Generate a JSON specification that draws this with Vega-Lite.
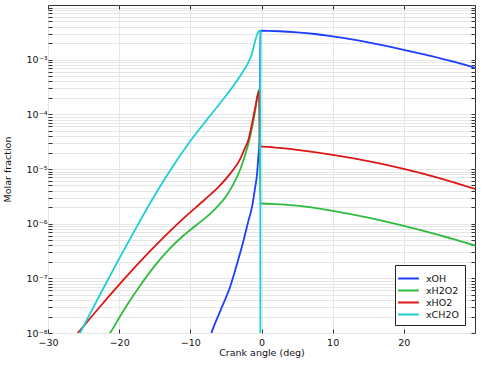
{
  "$schema": "https://vega.github.io/schema/vega-lite/v6.json",
  "width": 427,
  "height": 328,
  "autosize": {"type": "none"},
  "padding": {"left": 48, "top": 5, "right": 23, "bottom": 45},
  "background": "white",
  "config": {
    "font": "DejaVu Sans",
    "view": {"stroke": "#333333", "strokeWidth": 1},
    "axis": {
      "domain": false,
      "grid": true,
      "gridColor": "#e6e6e6",
      "gridWidth": 1,
      "tickColor": "#333333",
      "tickSize": -4,
      "labelFontSize": 9.5,
      "labelColor": "#111111",
      "titleFontSize": 9.5,
      "titleFontWeight": "normal",
      "titleColor": "#111111",
      "labelOverlap": false,
      "labelFlush": false
    }
  },
  "data": {
    "values": [
      {"species": "xOH", "angle": -7.3, "fraction": 7.94e-9},
      {"species": "xOH", "angle": -7.04, "fraction": 1e-8},
      {"species": "xOH", "angle": -5.77, "fraction": 2.57e-8},
      {"species": "xOH", "angle": -4.37, "fraction": 7.24e-8},
      {"species": "xOH", "angle": -3.38, "fraction": 1.95e-7},
      {"species": "xOH", "angle": -2.49, "fraction": 5.13e-7},
      {"species": "xOH", "angle": -1.86, "fraction": 1.10e-6},
      {"species": "xOH", "angle": -1.31, "fraction": 2.09e-6},
      {"species": "xOH", "angle": -0.92, "fraction": 4.37e-6},
      {"species": "xOH", "angle": -0.61, "fraction": 8.51e-6},
      {"species": "xOH", "angle": -0.45, "fraction": 1.62e-5},
      {"species": "xOH", "angle": -0.28, "fraction": 3.47e-5},
      {"species": "xOH", "angle": -0.2, "fraction": 2.51e-4},
      {"species": "xOH", "angle": -0.15, "fraction": 3.39e-3},
      {"species": "xOH", "angle": 2.5, "fraction": 3.31e-3},
      {"species": "xOH", "angle": 5, "fraction": 3.16e-3},
      {"species": "xOH", "angle": 7.5, "fraction": 2.95e-3},
      {"species": "xOH", "angle": 10, "fraction": 2.67e-3},
      {"species": "xOH", "angle": 12.5, "fraction": 2.37e-3},
      {"species": "xOH", "angle": 15, "fraction": 2.07e-3},
      {"species": "xOH", "angle": 17.5, "fraction": 1.78e-3},
      {"species": "xOH", "angle": 20, "fraction": 1.51e-3},
      {"species": "xOH", "angle": 22.5, "fraction": 1.27e-3},
      {"species": "xOH", "angle": 25, "fraction": 1.07e-3},
      {"species": "xOH", "angle": 27.5, "fraction": 8.81e-4},
      {"species": "xOH", "angle": 30, "fraction": 7.08e-4},

      {"species": "xH2O2", "angle": -21.6, "fraction": 8.51e-9},
      {"species": "xH2O2", "angle": -21.27, "fraction": 1e-8},
      {"species": "xH2O2", "angle": -19, "fraction": 3.08e-8},
      {"species": "xH2O2", "angle": -17, "fraction": 7.55e-8},
      {"species": "xH2O2", "angle": -15, "fraction": 1.69e-7},
      {"species": "xH2O2", "angle": -13, "fraction": 3.37e-7},
      {"species": "xH2O2", "angle": -11, "fraction": 6.0e-7},
      {"species": "xH2O2", "angle": -9, "fraction": 9.73e-7},
      {"species": "xH2O2", "angle": -7, "fraction": 1.61e-6},
      {"species": "xH2O2", "angle": -6, "fraction": 2.18e-6},
      {"species": "xH2O2", "angle": -5, "fraction": 3.15e-6},
      {"species": "xH2O2", "angle": -4, "fraction": 5.11e-6},
      {"species": "xH2O2", "angle": -3, "fraction": 9.70e-6},
      {"species": "xH2O2", "angle": -2, "fraction": 2.44e-5},
      {"species": "xH2O2", "angle": -1.5, "fraction": 4.47e-5},
      {"species": "xH2O2", "angle": -1, "fraction": 9.55e-5},
      {"species": "xH2O2", "angle": -0.35, "fraction": 2.82e-4},
      {"species": "xH2O2", "angle": -0.15, "fraction": 2.34e-6},
      {"species": "xH2O2", "angle": 0, "fraction": 2.34e-6},
      {"species": "xH2O2", "angle": 2.5, "fraction": 2.26e-6},
      {"species": "xH2O2", "angle": 5, "fraction": 2.14e-6},
      {"species": "xH2O2", "angle": 10, "fraction": 1.72e-6},
      {"species": "xH2O2", "angle": 15, "fraction": 1.29e-6},
      {"species": "xH2O2", "angle": 20, "fraction": 9.12e-7},
      {"species": "xH2O2", "angle": 25, "fraction": 6.17e-7},
      {"species": "xH2O2", "angle": 30, "fraction": 3.98e-7},

      {"species": "xHO2", "angle": -26.4, "fraction": 8.07e-9},
      {"species": "xHO2", "angle": -25.8, "fraction": 1e-8},
      {"species": "xHO2", "angle": -23, "fraction": 2.72e-8},
      {"species": "xHO2", "angle": -20, "fraction": 7.66e-8},
      {"species": "xHO2", "angle": -17, "fraction": 2.06e-7},
      {"species": "xHO2", "angle": -14, "fraction": 5.22e-7},
      {"species": "xHO2", "angle": -11, "fraction": 1.24e-6},
      {"species": "xHO2", "angle": -8, "fraction": 2.74e-6},
      {"species": "xHO2", "angle": -6, "fraction": 4.76e-6},
      {"species": "xHO2", "angle": -4.37, "fraction": 8.32e-6},
      {"species": "xHO2", "angle": -3, "fraction": 1.51e-5},
      {"species": "xHO2", "angle": -2.4, "fraction": 2.29e-5},
      {"species": "xHO2", "angle": -1.8, "fraction": 3.55e-5},
      {"species": "xHO2", "angle": -1.3, "fraction": 7.08e-5},
      {"species": "xHO2", "angle": -0.85, "fraction": 1.38e-4},
      {"species": "xHO2", "angle": -0.35, "fraction": 2.63e-4},
      {"species": "xHO2", "angle": -0.15, "fraction": 2.56e-5},
      {"species": "xHO2", "angle": 0, "fraction": 2.56e-5},
      {"species": "xHO2", "angle": 2.5, "fraction": 2.43e-5},
      {"species": "xHO2", "angle": 5, "fraction": 2.24e-5},
      {"species": "xHO2", "angle": 10, "fraction": 1.82e-5},
      {"species": "xHO2", "angle": 15, "fraction": 1.40e-5},
      {"species": "xHO2", "angle": 20, "fraction": 1.01e-5},
      {"species": "xHO2", "angle": 25, "fraction": 6.84e-6},
      {"species": "xHO2", "angle": 30, "fraction": 4.32e-6},

      {"species": "xCH2O", "angle": -25.8, "fraction": 8.4e-9},
      {"species": "xCH2O", "angle": -25.5, "fraction": 1e-8},
      {"species": "xCH2O", "angle": -22.7, "fraction": 5.01e-8},
      {"species": "xCH2O", "angle": -20, "fraction": 2.29e-7},
      {"species": "xCH2O", "angle": -17.5, "fraction": 8.91e-7},
      {"species": "xCH2O", "angle": -15, "fraction": 3.31e-6},
      {"species": "xCH2O", "angle": -12.5, "fraction": 1.10e-5},
      {"species": "xCH2O", "angle": -10, "fraction": 3.24e-5},
      {"species": "xCH2O", "angle": -7.5, "fraction": 8.51e-5},
      {"species": "xCH2O", "angle": -5, "fraction": 2.19e-4},
      {"species": "xCH2O", "angle": -3, "fraction": 5.01e-4},
      {"species": "xCH2O", "angle": -1.5, "fraction": 1.12e-3},
      {"species": "xCH2O", "angle": -0.38, "fraction": 3.31e-3},
      {"species": "xCH2O", "angle": -0.17, "fraction": 3.39e-3},
      {"species": "xCH2O", "angle": -0.15, "fraction": 1e-12}
    ]
  },
  "layer": [
    {
      "mark": {"type": "line", "strokeWidth": 1.8, "clip": true, "interpolate": "monotone"},
      "encoding": {
        "x": {
          "field": "angle", "type": "quantitative",
          "scale": {"domain": [-30, 30], "nice": false, "zero": false},
          "axis": {"orient": "bottom", "title": "Crank angle (deg)", "values": [-30, -20, -10, 0, 10, 20], "labelPadding": 8, "titlePadding": 1}
        },
        "y": {
          "field": "fraction", "type": "quantitative",
          "scale": {"type": "log", "domain": [1e-8, 1e-2], "nice": false},
          "axis": {
            "orient": "left",
            "title": "Molar fraction",
            "values": [1e-8, 2e-8, 3e-8, 4e-8, 5e-8, 6e-8, 7e-8, 8e-8, 9e-8,
                       1e-7, 2e-7, 3e-7, 4e-7, 5e-7, 6e-7, 7e-7, 8e-7, 9e-7,
                       1e-6, 2e-6, 3e-6, 4e-6, 5e-6, 6e-6, 7e-6, 8e-6, 9e-6,
                       1e-5, 2e-5, 3e-5, 4e-5, 5e-5, 6e-5, 7e-5, 8e-5, 9e-5,
                       1e-4, 2e-4, 3e-4, 4e-4, 5e-4, 6e-4, 7e-4, 8e-4, 9e-4,
                       1e-3, 2e-3, 3e-3, 4e-3, 5e-3, 6e-3, 7e-3, 8e-3, 9e-3],
            "labelExpr": "indexof([1e-8,1e-7,1e-6,1e-5,1e-4,1e-3], datum.value) >= 0 ? '10' + ['⁻⁸','⁻⁷','⁻⁶','⁻⁵','⁻⁴','⁻³'][indexof([1e-8,1e-7,1e-6,1e-5,1e-4,1e-3], datum.value)] : ''",
            "labelPadding": 5,
            "titlePadding": 14
          }
        },
        "color": {
          "field": "species", "type": "nominal",
          "scale": {"domain": ["xOH", "xH2O2", "xHO2", "xCH2O"], "range": ["#1f3dff", "#2fbb3e", "#dd1515", "#1fcfd6"]},
          "legend": {
            "orient": "none", "legendX": 347, "legendY": 260,
            "title": null,
            "symbolType": "M-1.6,0L1.6,0", "symbolSize": 169, "symbolStrokeWidth": 2,
            "labelFontSize": 9.5, "labelColor": "#111111", "labelOffset": 10,
            "padding": 6, "strokeColor": "#222222", "fillColor": "white",
            "rowPadding": 0
          }
        }
      }
    },
    {
      "mark": {"type": "point", "opacity": 0},
      "encoding": {
        "x": {
          "field": "angle", "type": "quantitative",
          "scale": {"domain": [-30, 30], "nice": false, "zero": false},
          "axis": {"orient": "top", "title": null, "labels": false, "grid": false, "values": [-30, -20, -10, 0, 10, 20]}
        },
        "y": {
          "field": "fraction", "type": "quantitative",
          "scale": {"type": "log", "domain": [1e-8, 1e-2], "nice": false},
          "axis": {
            "orient": "right", "title": null, "labels": false, "grid": false,
            "values": [1e-8, 2e-8, 3e-8, 4e-8, 5e-8, 6e-8, 7e-8, 8e-8, 9e-8,
                       1e-7, 2e-7, 3e-7, 4e-7, 5e-7, 6e-7, 7e-7, 8e-7, 9e-7,
                       1e-6, 2e-6, 3e-6, 4e-6, 5e-6, 6e-6, 7e-6, 8e-6, 9e-6,
                       1e-5, 2e-5, 3e-5, 4e-5, 5e-5, 6e-5, 7e-5, 8e-5, 9e-5,
                       1e-4, 2e-4, 3e-4, 4e-4, 5e-4, 6e-4, 7e-4, 8e-4, 9e-4,
                       1e-3, 2e-3, 3e-3, 4e-3, 5e-3, 6e-3, 7e-3, 8e-3, 9e-3]
          }
        }
      }
    }
  ],
  "resolve": {"axis": {"x": "independent", "y": "independent"}}
}
